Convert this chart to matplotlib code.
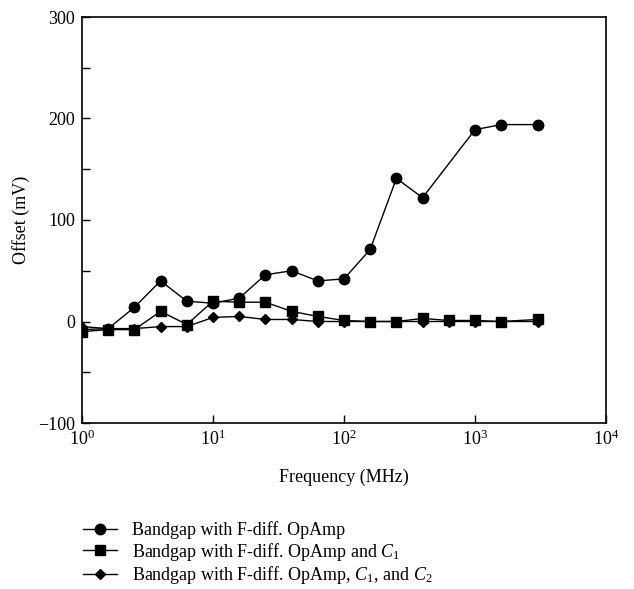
import matplotlib
matplotlib.use('Agg')
import matplotlib.pyplot as plt
from matplotlib.ticker import MultipleLocator, LogLocator, NullLocator

plt.rcParams['font.family'] = 'Liberation Serif'
plt.rcParams['mathtext.fontset'] = 'custom'
plt.rcParams['mathtext.rm'] = 'Liberation Serif'
plt.rcParams['mathtext.it'] = 'Liberation Serif:italic'
plt.rcParams['mathtext.bf'] = 'Liberation Serif:bold'

# frequencies (MHz)
freq_a = [1, 1.585, 2.512, 3.981, 6.31, 10, 15.85, 25.12, 39.81, 63.1,
          100, 158.5, 251.2, 398.1, 1000, 1585, 3000]
freq_b = [1, 1.585, 2.512, 3.981, 6.31, 10, 15.85, 25.12, 39.81, 63.1,
          100, 158.5, 251.2, 398.1, 631, 1000, 1585, 3000]

# offsets (mV)
offset_opamp = [-8, -7, 14, 40, 20, 18, 23, 46, 50, 40, 42, 71, 141, 122, 189, 194, 194]
offset_c1 = [-10, -8, -8, 10, -3, 20, 19, 19, 10, 5, 1, 0, 0, 3, 1, 1, 0, 2]
offset_c1c2 = [-5, -7, -7, -5, -5, 4, 5, 2, 2, 0, 0, 0, 0, 0, 0, 0, 0, 0]

labels = ['Bandgap with F-diff. OpAmp',
          'Bandgap with F-diff. OpAmp and $C_1$',
          'Bandgap with F-diff. OpAmp, $C_1$, and $C_2$']

fig = plt.figure(figsize=(6.34, 5.89), dpi=100)
ax = fig.add_axes([82/634, 1-423/589, 524/634, 406/589])

ax.plot(freq_a, offset_opamp, 'k-o', lw=1.0, ms=7.5, label=labels[0])
ax.plot(freq_b, offset_c1, 'k-s', lw=1.0, ms=6.5, label=labels[1])
ax.plot(freq_b, offset_c1c2, 'k-D', lw=1.0, ms=5.5, label=labels[2])

ax.set_xscale('log')
ax.set_xlim(1, 1e4)
ax.set_ylim(-100, 300)
ax.xaxis.set_major_locator(LogLocator(base=10, numticks=10))
ax.xaxis.set_minor_locator(NullLocator())
ax.yaxis.set_major_locator(MultipleLocator(100))
ax.yaxis.set_minor_locator(MultipleLocator(50))
ax.tick_params(which='both', direction='in', length=6, width=1, labelsize=13,
               top=False, right=False, pad=5)
for s in ax.spines.values():
    s.set_linewidth(1.2)

ax.set_xlabel('Frequency (MHz)', fontsize=13, labelpad=14)
ax.set_ylabel('Offset (mV)', fontsize=13, labelpad=6)

fig.legend(loc='upper left', bbox_to_anchor=(83/634, 1-521/589), frameon=False,
           fontsize=13, handlelength=1.9, handletextpad=0.8, labelspacing=0.1,
           borderpad=0, borderaxespad=0)

fig.savefig('out.png', dpi=100)
